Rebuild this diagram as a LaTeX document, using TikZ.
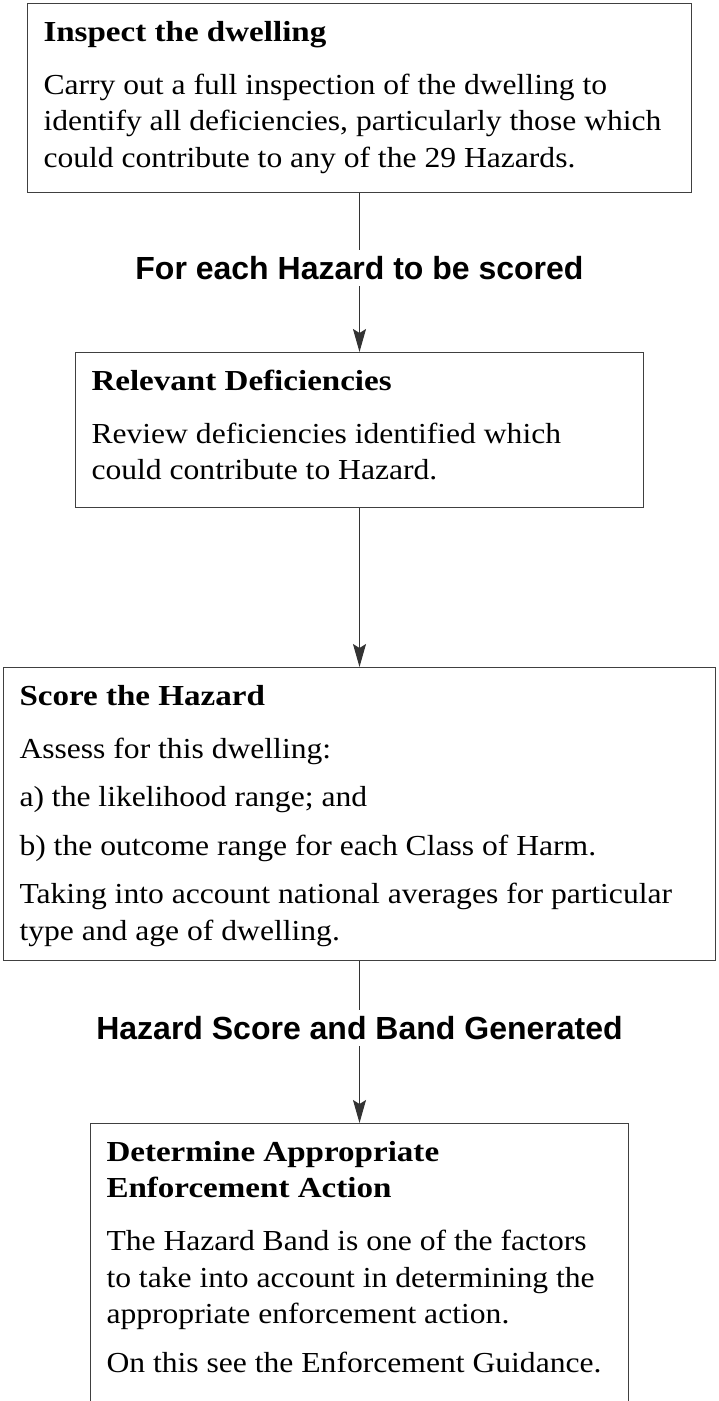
\documentclass[tikz,border=0pt]{standalone}
\usepackage{fontspec}
\setmainfont{Liberation Serif}
\newfontfamily\bodyserif[FakeStretch=1.09]{Liberation Serif}
\newfontfamily\headserif[FakeStretch=1.14]{Liberation Serif}
\newfontfamily\labelsans{Liberation Sans}
\usetikzlibrary{arrows.meta}

\newcommand{\stephead}[1]{\rule{0pt}{18.75pt}{\headserif\bfseries #1}\par\vspace{2.2pt}}
\newcommand{\steptext}[3]{\parbox[c][#2][t]{#1}{\bodyserif\fontsize{14.5pt}{18.3pt}\selectfont\setlength{\parskip}{6pt}#3}}

\begin{document}
\begin{tikzpicture}[x=0.5pt, y=-0.5pt,
  stepbox/.style={draw=black!75, line width=0.6pt, inner xsep=8pt, inner ysep=0pt, anchor=north},
  flowlabel/.style={font=\labelsans\bfseries\fontsize{16pt}{19pt}\selectfont, inner xsep=0pt, inner ysep=3pt},
  flowline/.style={draw=black!80, line width=0.6pt},
  flowarrow/.style={flowline, -{Stealth[length=11.5pt, width=6.5pt, inset=2pt]}}]
  \useasboundingbox (0,0) rectangle (718,1401);
  % the four steps
  \node[stepbox] (inspect) at (359.5,3) {\steptext{316pt}{94.5pt}{%
    \stephead{Inspect the dwelling}
    Carry out a full inspection of the dwelling to\\
    identify all deficiencies, particularly those which\\
    could contribute to any of the 29 Hazards.}};
  \node[stepbox] (relevant) at (359.5,352) {\steptext{268pt}{77.5pt}{%
    \stephead{Relevant Deficiencies}
    Review deficiencies identified which\\
    could contribute to Hazard.}};
  \node[stepbox] (score) at (359.5,667) {\steptext{340pt}{146.5pt}{%
    \stephead{Score the Hazard}
    Assess for this dwelling:\par
    a) the likelihood range; and\par
    b) the outcome range for each Class of Harm.\par
    Taking into account national averages for particular\\
    type and age of dwelling.}};
  \node[stepbox] (action) at (359.5,1123) {\steptext{253pt}{139pt}{%
    \stephead{Determine Appropriate\\Enforcement Action}
    The Hazard Band is one of the factors\\
    to take into account in determining the\\
    appropriate enforcement action.\par
    On this see the Enforcement Guidance.}};
  % labels on the connectors
  \node[flowlabel] (eachhazard) at (359.5,268) {For each Hazard to be scored};
  \node[flowlabel] (bandgen) at (359.5,1028) {Hazard Score and Band Generated};
  \draw[flowline] (inspect) -- (eachhazard);
  \draw[flowarrow] (eachhazard) -- (relevant);
  \draw[flowarrow] (relevant) -- (score);
  \draw[flowline] (score) -- (bandgen);
  \draw[flowarrow] (bandgen) -- (action);
\end{tikzpicture}
\end{document}
